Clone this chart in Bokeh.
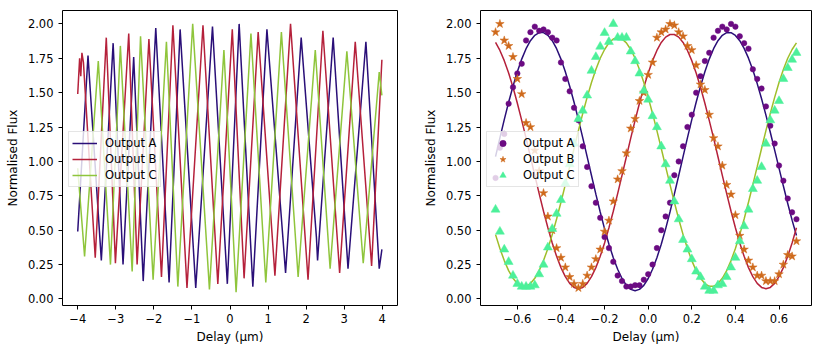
from bokeh.plotting import figure
from bokeh.layouts import row
from bokeh.models import Range1d, FixedTicker, Legend, LegendItem, CustomJSTickFormatter
from bokeh.embed import file_html
from bokeh.resources import INLINE

FONT = "DejaVu Sans"

# ---------------- left panel: scanned fringes (peaks / troughs)
scan_A_x = [-4.00, -3.73, -3.38, -3.07, -2.81, -2.53, -2.28, -1.95, -1.60, -1.31, -0.90, -0.46, -0.07,
            0.24, 0.60, 0.97, 1.46, 1.87, 2.27, 2.30, 2.71, 3.10, 3.57, 3.92, 3.99]
scan_A_y = [0.49, 1.77, 0.28, 1.86, 0.25, 1.76, 0.13, 1.97, 0.12, 1.96, 0.08, 1.98, 0.11,
            2.00, 0.09, 1.96, 0.19, 1.90, 0.45, 0.28, 1.90, 0.22, 1.87, 0.22, 0.36]

scan_B_x = [-4.00, -3.95, -3.92, -3.89, -3.85, -3.54, -3.25, -3.01, -2.66, -2.44, -2.13, -1.80, -1.50,
            -1.13, -0.71, -0.32, 0.06, 0.37, 0.74, 1.18, 1.59, 2.05, 2.44, 2.88, 3.29, 3.72, 3.99]
scan_B_y = [1.49, 1.75, 1.62, 1.79, 1.72, 0.30, 1.90, 0.26, 1.93, 0.25, 1.89, 0.16, 1.99,
            0.08, 1.99, 0.11, 1.96, 0.15, 1.94, 0.17, 2.00, 0.14, 1.95, 0.19, 1.87, 0.24, 1.74]

scan_C_x = [-4.00, -3.82, -3.46, -3.14, -2.88, -2.57, -2.35, -2.02, -1.67, -1.37, -0.98, -0.54,
            -0.16, 0.16, 0.55, 0.94, 1.35, 1.79, 2.24, 2.63, 3.07, 3.50, 3.92, 3.99]
scan_C_y = [0.95, 0.31, 1.73, 0.25, 1.84, 0.20, 1.91, 0.14, 1.87, 0.09, 2.00, 0.07,
            1.81, 0.05, 1.93, 0.12, 1.94, 0.16, 1.81, 0.22, 1.80, 0.26, 1.65, 1.48]

# ---------------- right panel: sampled data and fitted curves
delay = [-0.70, -0.68, -0.66, -0.64, -0.62, -0.60, -0.58, -0.56, -0.54, -0.52,
         -0.50, -0.48, -0.46, -0.44, -0.42, -0.40, -0.38, -0.36, -0.34, -0.32,
         -0.30, -0.28, -0.26, -0.24, -0.22, -0.20, -0.18, -0.16, -0.14, -0.12,
         -0.10, -0.08, -0.06, -0.04, -0.02, 0.00, 0.02, 0.04, 0.06, 0.08,
         0.10, 0.12, 0.14, 0.16, 0.18, 0.20, 0.22, 0.24, 0.26, 0.28,
         0.30, 0.32, 0.34, 0.36, 0.38, 0.40, 0.42, 0.44, 0.46, 0.48,
         0.50, 0.52, 0.54, 0.56, 0.58, 0.60, 0.62, 0.64, 0.66, 0.68]

data_A = [0.88, 1.10, 1.20, 1.42, 1.54, 1.64, 1.71, 1.88, 1.94, 1.98,
          1.95, 1.96, 1.94, 1.90, 1.88, 1.72, 1.60, 1.51, 1.39, 1.30,
          1.11, 0.96, 0.82, 0.70, 0.59, 0.45, 0.37, 0.27, 0.17, 0.13,
          0.09, 0.09, 0.10, 0.10, 0.14, 0.18, 0.25, 0.37, 0.50, 0.60,
          0.70, 0.90, 1.00, 1.11, 1.25, 1.34, 1.50, 1.62, 1.73, 1.79,
          1.90, 1.95, 1.98, 1.96, 2.00, 1.98, 1.91, 1.86, 1.82, 1.67,
          1.60, 1.53, 1.40, 1.26, 1.13, 0.97, 0.86, 0.73, 0.63, 0.58]

data_B = [1.94, 2.00, 1.88, 1.84, 1.76, 1.60, 1.49, 1.28, 1.25, 1.08,
          0.93, 0.77, 0.60, 0.50, 0.37, 0.30, 0.23, 0.16, 0.11, 0.08,
          0.11, 0.17, 0.23, 0.29, 0.36, 0.49, 0.57, 0.71, 0.87, 0.93,
          1.06, 1.24, 1.31, 1.44, 1.50, 1.63, 1.72, 1.90, 1.94, 1.96,
          2.00, 1.99, 1.94, 1.91, 1.84, 1.81, 1.70, 1.56, 1.52, 1.34,
          1.17, 1.11, 0.97, 0.83, 0.76, 0.61, 0.46, 0.36, 0.28, 0.23,
          0.17, 0.17, 0.13, 0.13, 0.13, 0.18, 0.25, 0.32, 0.31, 0.42]

data_C = [0.65, 0.49, 0.36, 0.27, 0.17, 0.11, 0.09, 0.09, 0.09, 0.10,
          0.18, 0.25, 0.375, 0.51, 0.62, 0.72, 0.84, 0.98, 1.13, 1.31,
          1.37, 1.48, 1.66, 1.76, 1.835, 1.935, 1.87, 2.00, 1.90, 1.90,
          1.90, 1.80, 1.73, 1.64, 1.515, 1.45, 1.33, 1.25, 1.11, 0.98,
          0.86, 0.71, 0.58, 0.43, 0.36, 0.29, 0.20, 0.16, 0.09, 0.06,
          0.06, 0.10, 0.11, 0.16, 0.23, 0.30, 0.42, 0.53, 0.65, 0.80,
          0.86, 0.96, 1.13, 1.30, 1.37, 1.44, 1.60, 1.68, 1.74, 1.79]

fit_A = [1.035, 1.171, 1.304, 1.430, 1.547, 1.652, 1.744, 1.820, 1.878, 1.917,
         1.937, 1.937, 1.917, 1.878, 1.820, 1.744, 1.652, 1.547, 1.430, 1.304,
         1.171, 1.035, 0.898, 0.762, 0.632, 0.510, 0.398, 0.300, 0.216, 0.149,
         0.099, 0.070, 0.060, 0.070, 0.099, 0.149, 0.216, 0.300, 0.398, 0.510,
         0.632, 0.762, 0.898, 1.035, 1.171, 1.304, 1.430, 1.547, 1.652, 1.744,
         1.820, 1.878, 1.917, 1.937, 1.936, 1.916, 1.878, 1.822, 1.751, 1.665,
         1.566, 1.456, 1.337, 1.212, 1.082, 0.951, 0.821, 0.694, 0.573, 0.461]

fit_B = [1.865, 1.807, 1.733, 1.643, 1.539, 1.423, 1.299, 1.169, 1.034, 0.899,
         0.766, 0.638, 0.518, 0.407, 0.310, 0.228, 0.162, 0.113, 0.084, 0.074,
         0.084, 0.113, 0.162, 0.228, 0.310, 0.407, 0.518, 0.638, 0.766, 0.899,
         1.034, 1.169, 1.299, 1.423, 1.539, 1.643, 1.733, 1.807, 1.865, 1.904,
         1.923, 1.923, 1.904, 1.865, 1.807, 1.733, 1.643, 1.539, 1.423, 1.299,
         1.169, 1.034, 0.899, 0.766, 0.638, 0.518, 0.407, 0.310, 0.228, 0.162,
         0.113, 0.084, 0.074, 0.084, 0.113, 0.162, 0.228, 0.310, 0.407, 0.518]

fit_C = [0.468, 0.367, 0.279, 0.206, 0.150, 0.112, 0.092, 0.092, 0.112, 0.150,
         0.206, 0.279, 0.367, 0.468, 0.581, 0.703, 0.831, 0.962, 1.094, 1.224,
         1.349, 1.466, 1.574, 1.669, 1.750, 1.814, 1.862, 1.890, 1.900, 1.890,
         1.862, 1.814, 1.750, 1.669, 1.574, 1.466, 1.349, 1.224, 1.094, 0.962,
         0.831, 0.703, 0.581, 0.468, 0.367, 0.279, 0.206, 0.150, 0.112, 0.092,
         0.092, 0.112, 0.150, 0.206, 0.279, 0.367, 0.468, 0.581, 0.703, 0.831,
         0.962, 1.094, 1.224, 1.349, 1.466, 1.574, 1.669, 1.750, 1.814, 1.862]

series_labels = ["Output A", "Output B", "Output C"]

left_xticks = [-4, -3, -2, -1, 0, 1, 2, 3, 4]
left_xlabels = ["\u22124", "\u22123", "\u22122", "\u22121", "0", "1", "2", "3", "4"]
right_xticks = [-0.6, -0.4, -0.2, 0.0, 0.2, 0.4, 0.6]
right_xlabels = ["\u22120.6", "\u22120.4", "\u22120.2", "0.0", "0.2", "0.4", "0.6"]
yticks = [0.0, 0.25, 0.5, 0.75, 1.0, 1.25, 1.5, 1.75, 2.0]
ylabels = ["0.00", "0.25", "0.50", "0.75", "1.00", "1.25", "1.50", "1.75", "2.00"]

x_title = "Delay (\u03bcm)"
y_title = "Normalised Flux"

LINE_COLORS = ["#2a0f78", "#b5213b", "#8fc53c"]
FIT_COLORS = ["#2a0f78", "#b5213b", "#9fbe2a"]
MARK_COLORS = ["#6b0b82", "#cf6a1c", "#4cf09a"]

LOOKUP = """
let best = 0;
for (let i = 0; i < tvals.length; i++) {
  if (Math.abs(tvals[i] - tick) < Math.abs(tvals[best] - tick)) best = i;
}
return tlabels[best];
"""


def make_fig(width, mbl, mbr, xr, xticks, xlabels):
    p = figure(width=width, height=351, x_range=Range1d(*xr), y_range=Range1d(-0.0475, 2.0975),
               output_backend="svg", toolbar_location=None,
               min_border_left=mbl, min_border_right=mbr, min_border_top=10, min_border_bottom=46)
    p.xgrid.visible = False
    p.ygrid.visible = False
    p.background_fill_color = "white"
    p.border_fill_color = "white"
    p.outline_line_color = "black"
    p.outline_line_width = 1
    p.outline_line_alpha = 1
    p.xaxis.ticker = FixedTicker(ticks=xticks)
    p.xaxis.formatter = CustomJSTickFormatter(args=dict(tvals=xticks, tlabels=xlabels), code=LOOKUP)
    p.yaxis.ticker = FixedTicker(ticks=yticks)
    p.yaxis.formatter = CustomJSTickFormatter(args=dict(tvals=yticks, tlabels=ylabels), code=LOOKUP)
    for ax in (p.xaxis[0], p.yaxis[0]):
        ax.axis_line_color = None
        ax.major_tick_out = 4
        ax.major_tick_in = 0
        ax.major_tick_line_color = "black"
        ax.minor_tick_line_color = None
        ax.major_label_text_font = FONT
        ax.major_label_text_font_size = "11.5px"
        ax.major_label_text_color = "black"
        ax.axis_label_text_font = FONT
        ax.axis_label_text_font_size = "12px"
        ax.axis_label_text_font_style = "normal"
        ax.axis_label_text_color = "black"
    p.xaxis.major_label_standoff = 4
    p.xaxis.axis_label_standoff = 4
    p.yaxis.major_label_standoff = 5
    p.yaxis.axis_label_standoff = 5
    p.xaxis.axis_label = x_title
    p.yaxis.axis_label = y_title
    return p


def make_legend(items):
    lg = Legend(items=items, location=(6, 118))
    lg.margin = 0
    lg.padding = 3
    lg.spacing = 0
    lg.label_height = 16
    lg.glyph_height = 16
    lg.glyph_width = 25
    lg.label_standoff = 8
    lg.label_text_font = FONT
    lg.label_text_font_size = "11.5px"
    lg.label_text_color = "black"
    lg.border_line_color = "#cccccc"
    lg.border_line_width = 1
    lg.background_fill_color = "white"
    lg.background_fill_alpha = 0.8
    return lg


# ---------------- left figure
p1 = make_fig(420, 62, 23, (-4.4, 4.4), left_xticks, left_xlabels)
left_series = [(scan_A_x, scan_A_y), (scan_B_x, scan_B_y), (scan_C_x, scan_C_y)]
items1 = []
for (xs, ys), col, lab in zip(left_series, LINE_COLORS, series_labels):
    r = p1.line(xs, ys, line_color=col, line_width=1.5)
    items1.append(LegendItem(label=lab, renderers=[r]))
p1.add_layout(make_legend(items1))

# ---------------- right figure
p2 = make_fig(410, 55, 19, (-0.769, 0.749), right_xticks, right_xlabels)
for fy, col in zip([fit_A, fit_B, fit_C], FIT_COLORS):
    p2.line(delay, fy, line_color=col, line_width=1.5)
markers = [("circle", 5.5), ("star", 9), ("triangle", 9)]
items2 = []
for dy, col, (mk, sz), lab in zip([data_A, data_B, data_C], MARK_COLORS, markers, series_labels):
    r = p2.scatter(delay, dy, marker=mk, size=sz, fill_color=col, line_color=col, line_width=0.5)
    items2.append(LegendItem(label=lab, renderers=[r]))
p2.add_layout(make_legend(items2))

layout = row(p1, p2)
open("out.html", "w").write(file_html(layout, INLINE))
